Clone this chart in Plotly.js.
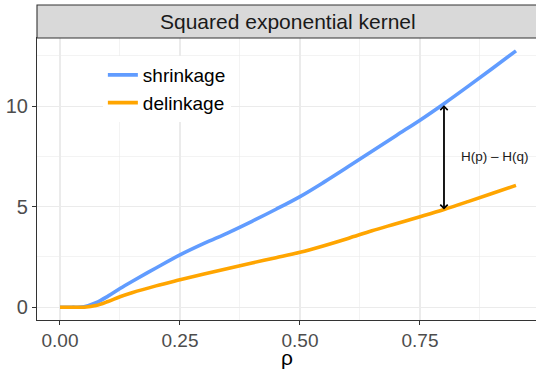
<!DOCTYPE html>
<html>
<head>
<meta charset="utf-8">
<script src="https://cdn.plot.ly/plotly-3.0.1.min.js"></script>
<style>
html,body{margin:0;padding:0;background:#fff;overflow:hidden;}
#chart{width:536px;height:370px;}
</style>
</head>
<body>
<div id="chart"></div>
<script>
// Data
const rho = [0.000, 0.025, 0.050, 0.075, 0.100, 0.125, 0.150, 0.200, 0.250, 0.300, 0.350, 0.400, 0.450, 0.500, 0.550, 0.600, 0.650, 0.700, 0.750, 0.800, 0.850, 0.900, 0.950];
const shrinkage = [0.00, 0.00, 0.02, 0.22, 0.55, 0.93, 1.28, 1.95, 2.60, 3.17, 3.70, 4.27, 4.87, 5.50, 6.22, 6.98, 7.75, 8.53, 9.30, 10.12, 10.98, 11.86, 12.75];
const delinkage = [0.00, 0.00, 0.00, 0.08, 0.28, 0.52, 0.72, 1.06, 1.36, 1.65, 1.93, 2.20, 2.46, 2.73, 3.06, 3.42, 3.80, 4.15, 4.50, 4.86, 5.25, 5.65, 6.06];
const seriesNames = ["shrinkage", "delinkage"];
const seriesColors = ["#619CFF", "#FFA500"];
const xTickVals = [0, 0.25, 0.5, 0.75];
const xTickText = ["0.00", "0.25", "0.50", "0.75"];
const yTickVals = [0, 5, 10];
const yTickText = ["0", "5", "10"];
const panelTitle = "Squared exponential kernel";
const xTitle = "\u03c1";
const arrowRho = 0.8;
const arrowLabel = "H(p) \u2013 H(q)";

const ai = rho.indexOf(arrowRho);

const traces = [
  {x: rho, y: shrinkage, name: seriesNames[0], type: "scatter", mode: "lines",
   line: {color: seriesColors[0], width: 3.6, shape: "spline", smoothing: 1}},
  {x: rho, y: delinkage, name: seriesNames[1], type: "scatter", mode: "lines",
   line: {color: seriesColors[1], width: 3.6, shape: "spline", smoothing: 1}}
];

const layout = {
  width: 536, height: 370,
  margin: {l: 37, r: 0, t: 38, b: 50},
  paper_bgcolor: "#ffffff",
  plot_bgcolor: "#ffffff",
  font: {family: "Liberation Sans, Arial, sans-serif", color: "#4D4D4D"},
  showlegend: true,
  legend: {
    x: 0.132, y: 0.936, xanchor: "left", yanchor: "top",
    bgcolor: "#ffffff", borderwidth: 0,
    font: {size: 19, color: "#000000"},
    itemwidth: 30, tracegroupgap: 0
  },
  xaxis: {
    range: [-0.0479, 0.9917],
    tickvals: xTickVals, ticktext: xTickText,
    tickfont: {size: 19, color: "#4D4D4D"},
    ticks: "outside", ticklen: 3.5, tickwidth: 1, tickcolor: "#333333",
    showgrid: true, gridcolor: "#EBEBEB", gridwidth: 1.1,
    minor: {dtick: 0.125, tick0: 0.125, showgrid: true, gridcolor: "#EBEBEB", gridwidth: 0.6, ticks: ""},
    zeroline: false,
    showline: true, linecolor: "#333333", linewidth: 1.1, mirror: true,
    title: {text: ""}
  },
  yaxis: {
    range: [-0.6375, 13.3875],
    tickvals: yTickVals, ticktext: yTickText,
    tickfont: {size: 20, color: "#4D4D4D"},
    ticks: "outside", ticklen: 4, tickwidth: 1, tickcolor: "#333333",
    showgrid: true, gridcolor: "#EBEBEB", gridwidth: 1.1,
    minor: {dtick: 2.5, tick0: 2.5, showgrid: true, gridcolor: "#EBEBEB", gridwidth: 0.6, ticks: ""},
    zeroline: false,
    showline: true, linecolor: "#333333", linewidth: 1.1,
    title: {text: ""}
  },
  shapes: [
    {type: "rect", xref: "paper", yref: "paper", x0: 0, x1: 1.01, y0: 1, y1: 1 + 33/282,
     fillcolor: "#D9D9D9", line: {color: "#333333", width: 1.1}, layer: "above"}
  ],
  annotations: [
    {xref: "paper", yref: "paper", x: (288 - 37) / 499, y: 1 + 16.5/282,
     text: panelTitle, showarrow: false, xanchor: "center", yanchor: "middle",
     font: {size: 21, color: "#1A1A1A"}},
    {xref: "paper", yref: "paper", x: (287 - 37) / 499, y: (320 - 370) / 282,
     text: xTitle, showarrow: false, xanchor: "center", yanchor: "bottom",
     borderpad: 0, font: {size: 21, color: "#000000"}},
    {x: arrowRho, y: delinkage[ai], ax: arrowRho, ay: shrinkage[ai],
     xref: "x", yref: "y", axref: "x", ayref: "y",
     text: "", showarrow: true, arrowside: "end+start",
     arrowhead: 4, startarrowhead: 4, arrowsize: 0.8, startarrowsize: 0.8,
     arrowwidth: 1.8, arrowcolor: "#000000", standoff: 0, startstandoff: 0},
    {x: 0.907, y: (shrinkage[ai] + delinkage[ai]) / 2, xref: "x", yref: "y",
     text: arrowLabel, showarrow: false, xanchor: "center", yanchor: "middle",
     font: {size: 13.5, color: "#1A1A1A"}}
  ]
};

Plotly.newPlot("chart", traces, layout, {displayModeBar: false, staticPlot: true});
</script>
</body>
</html>
